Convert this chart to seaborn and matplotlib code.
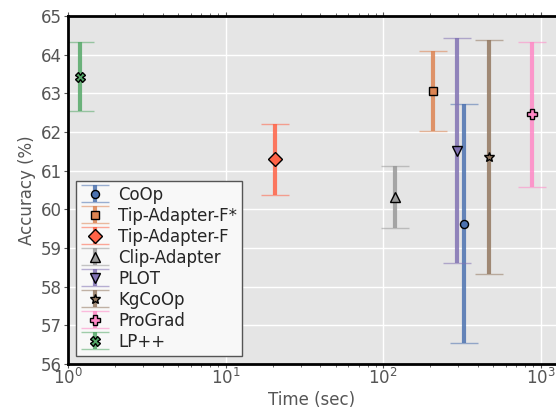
import numpy as np
import matplotlib
matplotlib.use("Agg")
import matplotlib.pyplot as plt
import seaborn as sns

methods = ["CoOp", "Tip-Adapter-F*", "Tip-Adapter-F", "Clip-Adapter", "PLOT", "KgCoOp", "ProGrad", "LP++"]
times = [325, 208, 20.6, 119, 296, 471, 887, 1.19]
acc = [59.63, 63.06, 61.29, 60.31, 61.52, 61.36, 62.46, 63.43]
err = [3.10, 1.04, 0.92, 0.80, 2.90, 3.02, 1.88, 0.90]
markers = ["o", "s", "D", "^", "v", "*", "P", "X"]
colors = ["#4C72B0", "#DD8452", "#FF6347", "#999999", "#8172B3", "#937860", "#FF88C6", "#55A868"]
msizes = [5.8, 6.2, 7, 6.5, 6.5, 7.5, 6.5, 6.5]

sns.set_style("darkgrid", rc={"axes.facecolor": "#E5E5E5", "grid.color": "white",
                              "axes.edgecolor": "black", "xtick.bottom": True, "ytick.left": True,
                              "xtick.top": True})
plt.rcParams['font.family'] = ['DejaVu Sans']

fig = plt.figure(figsize=(5.56, 4.11), dpi=100)
ax = fig.add_axes([0.1223, 0.1144, 0.8777, 0.8467])

for m, t, a, e, mk, c, ms in zip(methods, times, acc, err, markers, colors, msizes):
    line, caps, bars = ax.errorbar(t, a, yerr=e, fmt=mk, color=c, ecolor=c, elinewidth=3,
                                   capsize=10, capthick=2, markersize=ms, markeredgecolor="black",
                                   markeredgewidth=1, label=m)
    for cp in caps:
        cp.set_alpha(0.55)
    for b in bars:
        b.set_alpha(0.85)

ax.set_xscale("log")
ax.set_xlim(1, 1254)
ax.set_ylim(56, 65)
ax.set_yticks(np.arange(56, 66, 1))
ax.grid(True, which="major", color="white", linewidth=1)
ax.grid(False, which="minor")
for s in ["left", "bottom", "top"]:
    ax.spines[s].set_color("black")
    ax.spines[s].set_linewidth(2)
ax.spines["right"].set_visible(False)
ax.tick_params(axis="both", which="both", direction="out", colors="#555555", labelsize=12)
ax.tick_params(axis="x", which="major", length=3, pad=0)
ax.tick_params(axis="x", which="minor", length=2)
ax.tick_params(axis="y", which="major", length=3, pad=1.5)
ax.tick_params(axis="y", which="minor", left=False)
ax.set_xlabel("Time (sec)", fontsize=12, color="#555555", labelpad=2)
ax.set_ylabel("Accuracy (%)", fontsize=12, color="#555555", labelpad=3)

leg = ax.legend(loc="lower left", fontsize=12, labelspacing=0.18, handlelength=1.6,
                frameon=True, fancybox=False, borderpad=0.3, handletextpad=0.6)
leg.get_frame().set_facecolor("#F8F8F8")
leg.get_frame().set_edgecolor("#555555")
leg.get_frame().set_alpha(1)

fig.savefig("out.png", dpi=100)
